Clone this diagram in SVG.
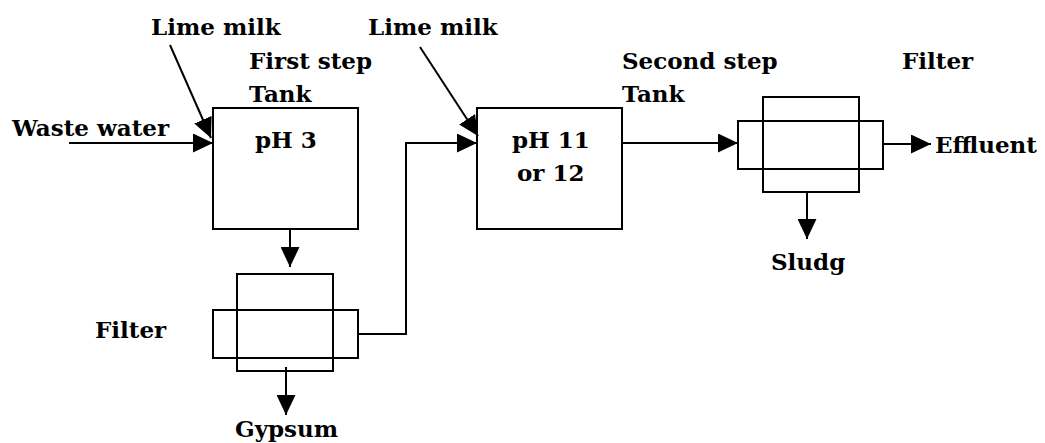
<svg xmlns="http://www.w3.org/2000/svg" width="1045" height="443" viewBox="0 0 1045 443">
<style>
text{font-family:"DejaVu Serif","Liberation Serif",serif;font-weight:bold;font-size:23px;fill:#000}
.box{fill:none;stroke:#000;stroke-width:2}
.ln{fill:none;stroke:#000;stroke-width:2}
</style>
<defs>
<marker id="ah" markerUnits="userSpaceOnUse" markerWidth="20" markerHeight="19" refX="20" refY="9.5" orient="auto" viewBox="0 0 20 19">
<path d="M0,0 L20,9.5 L0,19 z" fill="#000"/>
</marker>
</defs>
<rect width="1045" height="443" fill="#fff"/>
<g id="connectors">
<line class="ln" x1="69" y1="143" x2="213" y2="143" marker-end="url(#ah)"/>
<line class="ln" x1="170" y1="45" x2="211" y2="138" marker-end="url(#ah)"/>
<line class="ln" x1="290" y1="229" x2="290" y2="267" marker-end="url(#ah)"/>
<line class="ln" x1="286" y1="367" x2="286" y2="415" marker-end="url(#ah)"/>
<polyline class="ln" points="358,334 406,334 406,143 477,143" marker-end="url(#ah)"/>
<line class="ln" x1="420" y1="47" x2="478" y2="136" marker-end="url(#ah)"/>
<line class="ln" x1="622" y1="143" x2="738" y2="143" marker-end="url(#ah)"/>
<line class="ln" x1="883" y1="144" x2="931" y2="144" marker-end="url(#ah)"/>
<line class="ln" x1="807" y1="192" x2="807" y2="239" marker-end="url(#ah)"/>
</g>
<g id="labels">
<text x="151" y="35">Lime milk</text>
<text x="368" y="35">Lime milk</text>
<text x="12" y="136">Waste water</text>
<text x="95" y="338">Filter</text>
<text x="235" y="437">Gypsum</text>
<text x="902" y="69">Filter</text>
<text x="935" y="153">Effluent</text>
<text x="771" y="270">Sludg</text>
</g>
<g id="tank1">
<rect class="box" x="213" y="108" width="145" height="121"/>
<text x="249" y="69">First step</text>
<text x="249" y="102">Tank</text>
<text x="255" y="148">pH 3</text>
</g>
<g id="filter1">
<rect class="box" x="237" y="274" width="96" height="97"/>
<rect class="box" x="213" y="310" width="145" height="48"/>
</g>
<g id="tank2">
<rect class="box" x="477" y="108" width="145" height="121"/>
<text x="622" y="69">Second step</text>
<text x="622" y="102">Tank</text>
<text x="512" y="148">pH 11</text>
<text x="517" y="181">or 12</text>
</g>
<g id="filter2">
<rect class="box" x="763" y="97" width="96" height="95"/>
<rect class="box" x="738" y="121" width="145" height="48"/>
</g>
</svg>
